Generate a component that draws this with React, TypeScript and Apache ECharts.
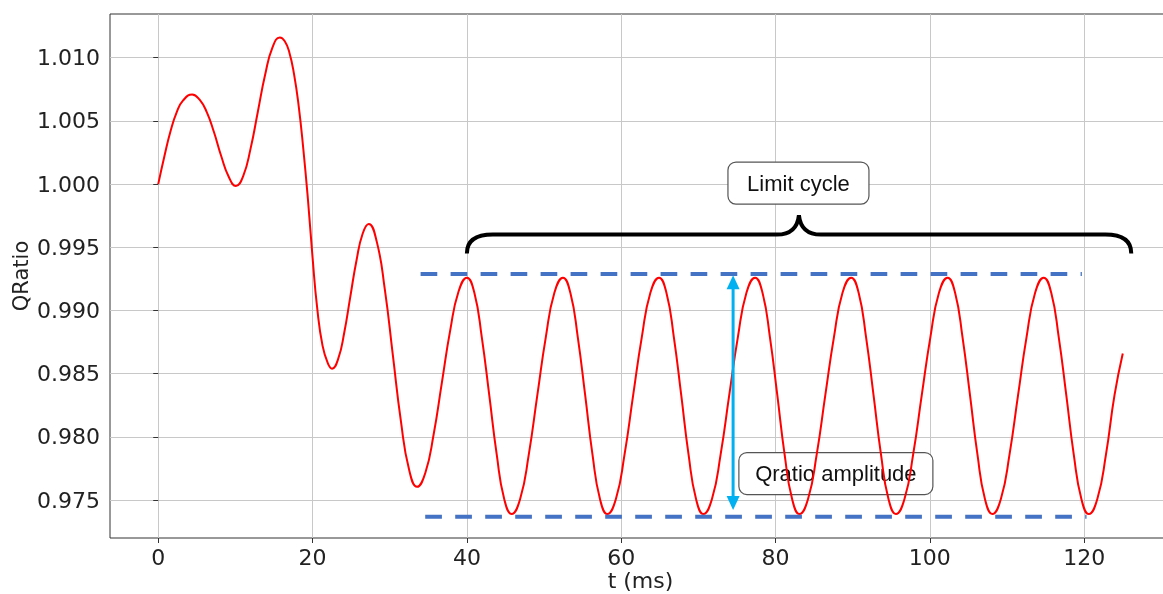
import React, { useEffect, useRef } from "react";
import * as echarts from "echarts";

// Tick values
const xTicks = [0, 20, 40, 60, 80, 100, 120];
const yTicks = [0.975, 0.98, 0.985, 0.99, 0.995, 1.0, 1.005, 1.01];

// Transient part of the QRatio signal (t in ms)
const transientT = [
  0, 0.8, 1.6, 2.4, 3.2, 4.4,
  5.34, 6.29, 7.23, 8.17, 9.12, 10.06,
  11.01, 11.96, 12.91, 13.86, 14.81, 15.76,
  16.4, 17.0, 17.6, 18.2, 18.8, 19.4, 20.0, 20.6, 21.3, 22.0, 22.53,
  23.32, 24.11, 24.9, 25.7, 26.49, 27.28,
  28.32, 29.37, 30.41, 31.45, 32.5, 33.54,
  34.62, 35.69, 36.77, 37.85, 38.92, 40.0,
];
const transientQ = [
  1.0, 1.0022, 1.0042, 1.0057, 1.0066, 1.0071,
  1.0067, 1.0057, 1.0041, 1.0022, 1.0006, 0.99985,
  1.00064, 1.00279, 1.00573, 1.00867, 1.01082, 1.0116,
  1.0113, 1.0104, 1.0087, 1.0062, 1.0028, 0.9988, 0.9942, 0.9902, 0.9872, 0.9858, 0.9854,
  0.98617, 0.98826, 0.99112, 0.99398, 0.99607, 0.99684,
  0.99545, 0.99165, 0.98645, 0.98125, 0.97744, 0.97605,
  0.97716, 0.98019, 0.98433, 0.98847, 0.9915, 0.9926,
];

// Limit-cycle part
const cycleT = [
  40.97, 41.93, 42.9, 43.87, 44.83, 45.8, 46.91, 48.02, 49.13, 50.23, 51.34, 52.45,
  53.41, 54.37, 55.33, 56.28, 57.24, 58.2, 59.32, 60.43, 61.55, 62.67, 63.78, 64.9,
  65.86, 66.82, 67.78, 68.73, 69.69, 70.65, 71.77, 72.88, 74.0, 75.12, 76.23, 77.35,
  78.31, 79.27, 80.23, 81.18, 82.14, 83.1, 84.22, 85.33, 86.45, 87.57, 88.68, 89.8,
  90.77, 91.73, 92.7, 93.67, 94.63, 95.6, 96.72, 97.83, 98.95, 100.07, 101.18, 102.3,
  103.27, 104.23, 105.2, 106.17, 107.13, 108.1, 109.21, 110.32, 111.43, 112.53, 113.64, 114.75,
  115.73, 116.7, 117.68, 118.65, 119.63, 120.6, 121.71, 122.82, 123.93, 125.0,
];
const cycleQ = [
  0.9914, 0.9879, 0.9833, 0.9786, 0.9751, 0.9739, 0.9751, 0.9786, 0.9833, 0.9879, 0.9914, 0.9926,
  0.9914, 0.9879, 0.9833, 0.9786, 0.9751, 0.9739, 0.9751, 0.9786, 0.9833, 0.9879, 0.9914, 0.9926,
  0.9914, 0.9879, 0.9833, 0.9786, 0.9751, 0.9739, 0.9751, 0.9786, 0.9833, 0.9879, 0.9914, 0.9926,
  0.9914, 0.9879, 0.9833, 0.9786, 0.9751, 0.9739, 0.9751, 0.9786, 0.9833, 0.9879, 0.9914, 0.9926,
  0.9914, 0.9879, 0.9833, 0.9786, 0.9751, 0.9739, 0.9751, 0.9786, 0.9833, 0.9879, 0.9914, 0.9926,
  0.9914, 0.9879, 0.9833, 0.9786, 0.9751, 0.9739, 0.9751, 0.9786, 0.9833, 0.9879, 0.9914, 0.9926,
  0.9914, 0.9879, 0.9833, 0.9786, 0.9751, 0.9739, 0.9751, 0.9786, 0.9833, 0.9866,
];

// Annotations (data coordinates)
const envelopeTop = { from: 34.0, to: 119.7, q: 0.99288 };
const envelopeBottom = { from: 34.6, to: 120.3, q: 0.97368 };
const amplitudeArrow = { t: 74.5, top: 0.99279, bottom: 0.97421 };
const brace = { from: 40.0, to: 126.1, tip: 83.03, qLine: 0.99601, qEnd: 0.99452, qTip: 0.99755 };
const limitCycleLabel = { text: "Limit cycle", t: 82.97, q: 1.00008, w: 141, h: 42 };
const amplitudeLabel = { text: "Qratio amplitude", t: 87.82, q: 0.9771, w: 194, h: 42 };

const AXIS_FONT = "DejaVu Sans";
const NOTE_FONT = "Liberation Sans, Arial, sans-serif";

export default function App() {
  const ref = useRef<HTMLDivElement>(null);

  useEffect(() => {
    const el = ref.current;
    if (!el) return;
    const chart = echarts.init(el, null, { renderer: "svg" });

    const lineData = [
      ...transientT.map((t, i) => [t, transientQ[i]]),
      ...cycleT.map((t, i) => [t, cycleQ[i]]),
    ];

    chart.setOption({
      animation: false,
      grid: {
        left: 110,
        top: 14,
        width: 1061,
        height: 524,
        containLabel: false,
        outerBoundsMode: "none",
        show: true,
        borderColor: "#333",
        borderWidth: 1,
        backgroundColor: "transparent",
      },
      xAxis: {
        type: "value",
        min: -6.25,
        max: 131.25,
        name: "t (ms)",
        nameLocation: "middle",
        nameGap: 32,
        nameMoveOverlap: false,
        nameTextStyle: { fontFamily: AXIS_FONT, fontSize: 22, lineHeight: 20, color: "#222" },
        axisLine: { show: false },
        axisTick: { show: true, length: 5, lineStyle: { color: "#333" }, customValues: xTicks },
        axisLabel: {
          customValues: xTicks,
          fontFamily: AXIS_FONT,
          fontSize: 22,
          color: "#222",
          margin: 8,
          formatter: (v: number) => String(v),
        },
        splitLine: { show: true, lineStyle: { color: "#c8c8c8", width: 1 } },
      },
      yAxis: {
        type: "value",
        min: 0.972,
        max: 1.01346,
        name: "QRatio",
        nameLocation: "middle",
        nameGap: 79,
        nameMoveOverlap: false,
        nameTextStyle: { fontFamily: AXIS_FONT, fontSize: 21, color: "#222" },
        axisLine: { show: false },
        axisTick: { show: true, length: 5, lineStyle: { color: "#333" }, customValues: yTicks },
        axisLabel: {
          customValues: yTicks,
          fontFamily: AXIS_FONT,
          fontSize: 22,
          color: "#222",
          margin: 10,
          formatter: (v: number) => v.toFixed(3),
        },
        splitLine: { show: true, lineStyle: { color: "#c8c8c8", width: 1 } },
      },
      series: [
        {
          type: "line",
          data: lineData,
          showSymbol: false,
          smooth: 0.5,
          lineStyle: { color: "#ff0000", width: 2 },
          itemStyle: { color: "#ff0000" },
          silent: true,
          z: 2,
        },
      ],
    });

    const px = (t: number, q: number) =>
      chart.convertToPixel({ gridIndex: 0 }, [t, q]) as number[];

    // brace path
    const [L, Ye] = px(brace.from, brace.qEnd);
    const [R] = px(brace.to, brace.qEnd);
    const [C, Yt] = px(brace.tip, brace.qTip);
    const [, Y] = px(brace.tip, brace.qLine);
    const d =
      `M${L},${Ye} Q${L},${Y} ${L + 26},${Y} L${C - 22},${Y} ` +
      `Q${C - 2},${Y} ${C},${Yt} Q${C + 2},${Y} ${C + 22},${Y} ` +
      `L${R - 26},${Y} Q${R},${Y} ${R},${Ye}`;
    echarts.graphic.registerShape("curlyBrace", echarts.graphic.extendPath(d, {}));

    const [tx1, ty] = px(envelopeTop.from, envelopeTop.q);
    const [tx2] = px(envelopeTop.to, envelopeTop.q);
    const [bx1, by] = px(envelopeBottom.from, envelopeBottom.q);
    const [bx2] = px(envelopeBottom.to, envelopeBottom.q);

    const [ax, ayTop] = px(amplitudeArrow.t, amplitudeArrow.top);
    const [, ayBot] = px(amplitudeArrow.t, amplitudeArrow.bottom);
    const headH = 14;
    const headW = 6.5;

    const box = (lab: { text: string; t: number; q: number; w: number; h: number }) => {
      const [cx, cy] = px(lab.t, lab.q);
      return {
        type: "group",
        z: 20,
        children: [
          {
            type: "rect",
            shape: { x: cx - lab.w / 2, y: cy - lab.h / 2, width: lab.w, height: lab.h, r: 8 },
            style: { fill: "#fff", stroke: "#555", lineWidth: 1.2 },
          },
          {
            type: "text",
            x: cx,
            y: cy,
            style: {
              text: lab.text,
              fontFamily: NOTE_FONT,
              fontSize: 22,
              fill: "#111",
              align: "center",
              verticalAlign: "middle",
            },
          },
        ],
      };
    };

    chart.setOption({
      graphic: [
        {
          type: "line",
          z: 10,
          shape: { x1: tx1, y1: ty, x2: tx2, y2: ty },
          style: { stroke: "#4472C4", lineWidth: 4, lineDash: [16.7, 13.3] },
        },
        {
          type: "line",
          z: 10,
          shape: { x1: bx1, y1: by, x2: bx2, y2: by },
          style: { stroke: "#4472C4", lineWidth: 4, lineDash: [16.7, 13.3] },
        },
        {
          type: "line",
          z: 11,
          shape: { x1: ax, y1: ayTop + headH - 1, x2: ax, y2: ayBot - headH + 1 },
          style: { stroke: "#00B0F0", lineWidth: 3 },
        },
        {
          type: "polygon",
          z: 11,
          shape: { points: [[ax, ayTop], [ax - headW, ayTop + headH], [ax + headW, ayTop + headH]] },
          style: { fill: "#00B0F0" },
        },
        {
          type: "polygon",
          z: 11,
          shape: { points: [[ax, ayBot], [ax - headW, ayBot - headH], [ax + headW, ayBot - headH]] },
          style: { fill: "#00B0F0" },
        },
        {
          type: "curlyBrace",
          z: 10,
          x: 0,
          y: 0,
          style: { stroke: "#000", fill: "none", lineWidth: 4 },
        },
        box(limitCycleLabel),
        box(amplitudeLabel),
      ],
    });

    return () => chart.dispose();
  }, []);

  return (
    <div
      ref={ref}
      style={{ position: "fixed", left: 0, top: 0, width: 1180, height: 594 }}
    />
  );
}
